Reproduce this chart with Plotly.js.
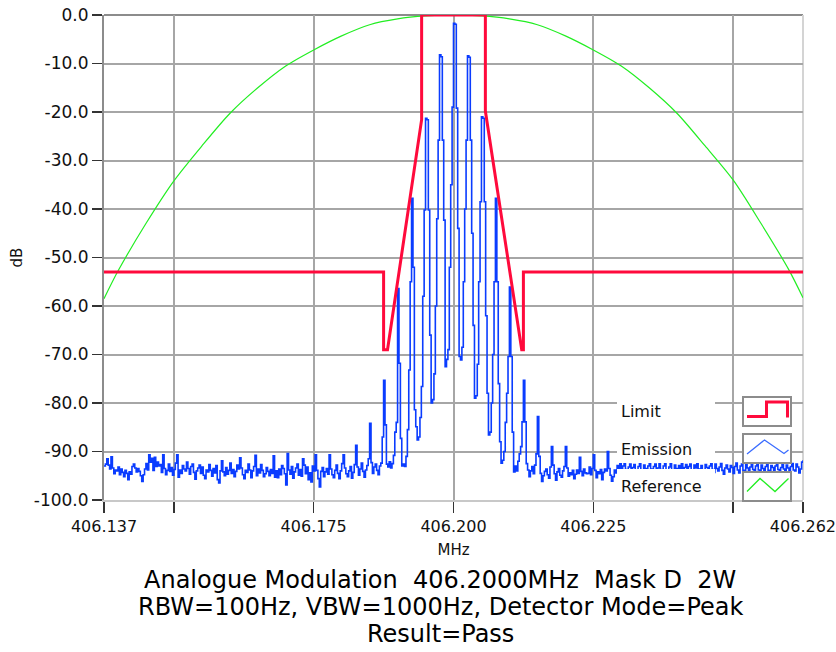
<!DOCTYPE html>
<html><head><meta charset="utf-8">
<script src="https://cdn.plot.ly/plotly-3.0.1.min.js"></script>
<style>html,body{margin:0;padding:0;background:#fff}#chart{width:836px;height:652px}</style>
</head><body><div id="chart"></div>
<script>
// ---------------- DATA ----------------
const freqStartMHz = 406.1375;
const freqEndMHz = 406.2625;
const freqStepMHz = 0.00025;
const emissionDb = [
-93.0,-92.6,-91.5,-92.8,-93.6,-91.1,-93.4,-94.6,-93.8,-94.0,
-93.2,-94.8,-93.6,-94.3,-95.2,-93.9,-94.5,-95.8,-94.2,-94.7,
-93.1,-92.6,-93.4,-94.2,-93.5,-94.1,-95.0,-96.2,-94.8,-93.6,
-92.5,-93.8,-90.7,-92.2,-91.4,-93.9,-91.2,-93.1,-92.2,-93.0,
-92.7,-94.3,-90.7,-93.5,-94.8,-93.9,-92.6,-94.1,-93.3,-94.9,
-93.7,-92.4,-90.7,-95.3,-93.8,-94.5,-92.9,-93.6,-94.0,-92.2,
-93.5,-94.7,-93.1,-92.6,-94.3,-95.7,-94.0,-93.4,-92.8,-94.5,
-93.2,-94.9,-95.6,-93.8,-94.2,-92.7,-93.9,-95.1,-93.5,-94.4,
-92.9,-95.8,-96.5,-94.0,-91.9,-94.2,-95.0,-93.3,-94.7,-93.9,
-92.4,-94.5,-93.7,-95.2,-94.1,-92.8,-93.6,-91.3,-93.4,-94.8,
-95.6,-93.9,-94.3,-92.6,-93.8,-95.4,-94.0,-93.1,-90.8,-95.0,
-93.6,-94.4,-92.7,-93.9,-95.2,-94.6,-93.3,-94.1,-95.0,-93.7,
-94.5,-90.9,-95.3,-94.0,-95.4,-93.6,-94.8,-92.9,-93.5,-94.6,
-96.9,-90.4,-93.8,-94.7,-93.1,-95.5,-94.2,-93.4,-92.6,-94.9,
-93.7,-95.1,-91.5,-92.8,-94.6,-93.2,-95.8,-94.4,-96.3,-93.0,
-94.0,-90.7,-93.9,-95.6,-97.3,-94.1,-93.3,-95.2,-94.2,-93.5,
-94.7,-90.7,-93.6,-94.8,-95.4,-93.9,-92.8,-94.5,-95.6,-94.0,
-92.5,-90.7,-93.4,-94.6,-95.2,-94.0,-93.1,-95.5,-94.3,-92.7,
-88.7,-93.2,-94.9,-93.6,-92.4,-94.1,-95.3,-93.8,-92.9,-91.5,
-84.2,-92.3,-94.5,-93.2,-92.6,-93.9,-94.8,-93.0,-92.4,-87.0,
-75.3,-84.5,-92.6,-93.2,-92.1,-93.4,-92.5,-90.8,-86.0,-84.0,
-56.4,-71.8,-87.3,-93.0,-92.6,-93.1,-91.0,-85.5,-73.2,-55.0,
-37.8,-52.0,-81.4,-84.9,-87.6,-87.0,-83.0,-76.6,-58.0,-40.2,
-21.3,-21.6,-40.2,-66.0,-80.0,-79.3,-74.0,-60.0,-42.0,-25.8,
-8.2,-8.6,-25.8,-42.3,-72.5,-71.0,-69.0,-52.0,-35.0,-19.0,
-1.7,-1.9,-19.2,-44.0,-70.4,-71.1,-68.5,-55.0,-40.0,-25.8,
-8.4,-8.7,-25.8,-45.0,-64.0,-79.0,-78.5,-72.0,-55.0,-38.5,
-21.0,-21.3,-38.5,-62.0,-78.0,-86.6,-86.0,-80.0,-70.0,-55.0,
-37.8,-55.0,-76.0,-88.0,-92.4,-91.8,-90.0,-84.0,-78.0,-70.4,
-56.1,-70.4,-86.0,-94.2,-93.0,-94.0,-92.0,-90.5,-89.0,-83.9,
-75.3,-83.9,-92.5,-93.8,-95.2,-94.0,-93.1,-94.6,-92.8,-90.5,
-82.8,-91.0,-94.5,-96.2,-95.0,-94.1,-93.6,-94.8,-95.5,-93.2,
-89.0,-92.8,-94.6,-95.9,-94.2,-93.5,-94.9,-95.3,-94.0,-93.1,
-89.0,-93.4,-95.1,-94.4,-94.8,-93.9,-95.6,-94.7,-93.8,-94.5,
-91.2,-94.1,-95.0,-93.6,-94.4,-94.6,-94.5,-93.2,-94.8,-93.5,
-90.7,-93.9,-95.4,-94.2,-94.6,-93.7,-95.8,-94.3,-93.6,-94.0,
-90.0,-93.5,-94.9,-96.1,-95.2,-93.8,-94.4,-92.9,-93.6,-92.4,
-94.1,-93.0,-92.2,-93.7,-94.5,-93.2,-92.6,-94.0,-93.3,-92.7,
-93.8,-94.6,-93.1,-92.5,-93.9,-94.3,-92.8,-93.5,-94.7,-93.0,
-92.3,-93.6,-94.2,-93.1,-92.6,-94.0,-93.4,-92.1,-93.7,-94.4,
-93.0,-92.5,-93.8,-94.6,-93.2,-92.4,-93.9,-94.1,-92.8,-93.5,
-94.3,-92.9,-93.6,-92.2,-94.0,-93.3,-92.7,-94.5,-93.1,-92.6,
-93.9,-94.2,-92.8,-93.4,-92.3,-94.1,-93.6,-92.9,-93.8,-94.4,
-92.7,-93.3,-94.6,-93.0,-92.4,-93.7,-94.3,-92.6,-93.5,-94.0,
-93.2,-92.5,-93.9,-94.7,-93.4,-92.8,-93.6,-94.2,-92.9,-93.3,
-94.5,-93.1,-92.4,-93.8,-94.4,-93.0,-92.6,-93.9,-94.1,-92.7,
-93.4,-94.6,-93.2,-92.3,-93.7,-94.3,-93.0,-92.5,-93.8,-94.0,
-92.8,-93.5,-94.4,-93.1,-92.6,-93.9,-94.2,-92.9,-93.3,-94.5,
-93.0,-92.4,-93.7,-94.6,-93.3,-92.7,-93.6,-94.1,-92.8,-93.4,
-94.3,-93.1,-92.5,-93.8,-94.0,-92.6,-93.2,-94.4,-93.6,-92.2,
-91.8
];
const limitFreqMHz = [406.1375, 406.1875, 406.1875, 406.1882, 406.1943, 406.1943, 406.2057, 406.2057, 406.2122, 406.2125, 406.2125, 406.2625];
const limitDb      = [-53.0,    -53.0,    -69.0,    -69.0,    -21.6,    0.0,      0.0,      -19.8,    -69.0,    -69.0,    -53.0,    -53.0];
const referenceFreqMHz = [406.1375,406.140,406.145,406.150,406.155,406.160,406.165,406.170,406.175,406.180,406.185,406.190,406.195,406.200,
                          406.205,406.210,406.215,406.220,406.225,406.230,406.235,406.240,406.245,406.250,406.255,406.260,406.2625];
const referenceDb = [-58.5,-52.8,-43.0,-34.2,-27.0,-20.3,-15.0,-10.5,-7.2,-4.3,-2.0,-0.8,-0.2,0.0,
                     -0.2,-0.8,-2.0,-4.3,-7.2,-10.5,-15.0,-20.3,-27.0,-34.0,-43.0,-52.6,-58.3];
const xTickVals = [406.1375, 406.15, 406.175, 406.2, 406.225, 406.25, 406.26249];
const xTickText = ['406.137', '', '406.175', '406.200', '406.225', '', '406.262'];
const yTickVals = [0,-10,-20,-30,-40,-50,-60,-70,-80,-90,-100];
const yTickText = ['0.0','-10.0','-20.0','-30.0','-40.0','-50.0','-60.0','-70.0','-80.0','-90.0','-100.0'];
const seriesNames = ['Limit', 'Emission', 'Reference'];
const titleLines = ['Analogue Modulation&nbsp;&nbsp;406.2000MHz&nbsp;&nbsp;Mask D&nbsp;&nbsp;2W',
                    'RBW=100Hz, VBW=1000Hz, Detector Mode=Peak',
                    'Result=Pass'];
const xTitle = 'MHz';
const yTitle = 'dB';

// ---------------- BUILD ----------------
const emissionFreq = emissionDb.map((_, i) => freqStartMHz + i * freqStepMHz);
const COLORS = {limit: '#ff0a3c', emission: '#0a3cff', reference: '#22ee22'};
const FONT = 'DejaVu Sans, Verdana, sans-serif';

// plot area: left 104, right 803, top 15, bottom 500
const L = 104, R = 803, T = 15, B = 500;
const px = v => (v - L) / (R - L);
const py = v => (B - v) / (B - T);

const traces = [
  {x: referenceFreqMHz, y: referenceDb, name: seriesNames[2], type: 'scatter', mode: 'lines',
   line: {color: COLORS.reference, width: 1.2, shape: 'spline', smoothing: 0.8}},
  {x: emissionFreq, y: emissionDb, name: seriesNames[1], type: 'scatter', mode: 'lines',
   line: {color: COLORS.emission, width: 1.6, shape: 'hv'}},
  {x: limitFreqMHz, y: limitDb, name: seriesNames[0], type: 'scatter', mode: 'lines',
   line: {color: COLORS.limit, width: 3}}
];

// legend decorations (paper coords)
const shapes = [];
const annotations = [];
const labelBoxes = [[393, 428], [432, 463], [469, 500]];
const labelCenters = [411, 449, 486];
const swatchBoxes = [[397, 426], [434, 463], [472, 501]];
labelBoxes.forEach(b => shapes.push({type: 'rect', xref: 'paper', yref: 'paper', layer: 'above',
  x0: px(617), x1: px(715), y0: py(b[1]), y1: py(b[0]), fillcolor: '#ffffff', line: {width: 0}}));
swatchBoxes.forEach(b => shapes.push({type: 'rect', xref: 'paper', yref: 'paper', layer: 'above',
  x0: px(743), x1: px(791), y0: py(b[1]), y1: py(b[0]), fillcolor: '#ffffff', line: {color: '#8c8c8c', width: 2}}));
const pathOf = pts => 'M ' + pts.map(p => px(p[0]) + ' ' + py(p[1])).join(' L ');
shapes.push({type: 'path', xref: 'paper', yref: 'paper', layer: 'above',
  path: pathOf([[747, 416.5], [766.5, 416.5], [766.5, 402], [787.5, 402], [787.5, 417.5]]),
  line: {color: COLORS.limit, width: 3}});
shapes.push({type: 'path', xref: 'paper', yref: 'paper', layer: 'above',
  path: pathOf([[747, 454], [764.5, 440], [784, 453.5], [788.5, 450]]),
  line: {color: '#3a6cff', width: 1.3}});
shapes.push({type: 'path', xref: 'paper', yref: 'paper', layer: 'above',
  path: pathOf([[747, 491.5], [760, 478.5], [775, 491.5], [788.5, 478.5]]),
  line: {color: COLORS.reference, width: 1.3}});
seriesNames.forEach((n, i) => annotations.push({xref: 'paper', yref: 'paper', x: px(619), y: py(labelCenters[i]),
  xanchor: 'left', yanchor: 'middle', text: n, showarrow: false, font: {family: FONT, size: 16, color: '#111'}}));

const titleY = [580, 607, 634];
titleLines.forEach((t, i) => annotations.push({xref: 'paper', yref: 'paper', x: px(440), y: py(titleY[i]),
  xanchor: 'center', yanchor: 'middle', text: t, showarrow: false, font: {family: FONT, size: 24, color: '#000'}}));

const layout = {
  width: 836, height: 652,
  margin: {l: L, r: 836 - R, t: T, b: 652 - B, pad: 0},
  paper_bgcolor: '#ffffff', plot_bgcolor: '#ffffff',
  showlegend: false,
  font: {family: FONT, color: '#111'},
  xaxis: {
    range: [freqStartMHz, freqEndMHz],
    tickmode: 'array', tickvals: xTickVals, ticktext: xTickText,
    ticks: 'outside', ticklen: 11, tickwidth: 1.5, tickcolor: '#333',
    ticklabeloverflow: 'allow',
    showgrid: true, gridcolor: '#a6a6a6', gridwidth: 2,
    showline: true, linecolor: '#c8c8c8', linewidth: 1.5, mirror: false,
    zeroline: false, tickfont: {family: FONT, size: 16, color: '#111'},
    title: {text: xTitle, font: {family: FONT, size: 15, color: '#111'}, standoff: 10}
  },
  yaxis: {
    range: [-100, 0],
    tickmode: 'array', tickvals: yTickVals, ticktext: yTickText,
    ticks: 'outside', ticklen: 10, tickwidth: 1.5, tickcolor: '#333',
    showgrid: true, gridcolor: '#a6a6a6', gridwidth: 2,
    showline: true, linecolor: '#8c8c8c', linewidth: 2, mirror: false,
    zeroline: false, tickfont: {family: FONT, size: 17, color: '#111'},
    title: {text: yTitle, font: {family: FONT, size: 15, color: '#111'}, standoff: 8}
  },
  shapes: shapes.concat([
    {type: 'line', xref: 'paper', yref: 'paper', x0: 0, x1: 1, y0: 1, y1: 1, layer: 'below', line: {color: '#8c8c8c', width: 2}},
    {type: 'line', xref: 'paper', yref: 'paper', x0: 1, x1: 1, y0: 0, y1: 1, layer: 'below', line: {color: '#d4d4d4', width: 2}}
  ]),
  annotations: annotations
};

Plotly.newPlot('chart', traces, layout, {displayModeBar: false, staticPlot: true});
</script></body></html>
